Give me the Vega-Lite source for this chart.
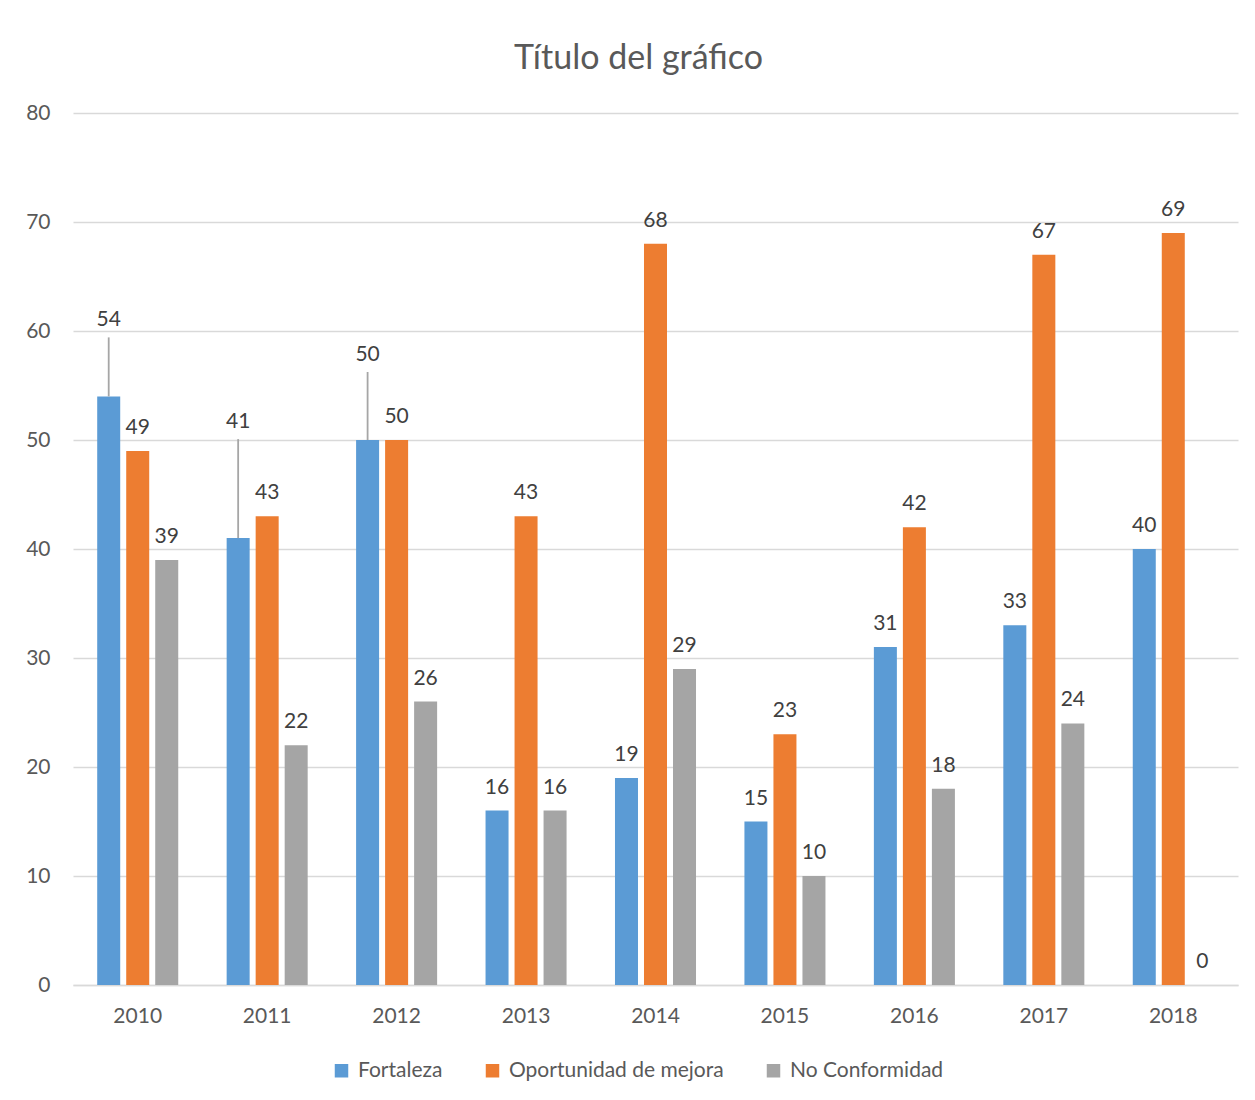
{
  "$schema": "https://vega.github.io/schema/vega-lite/v6.json",
  "autosize": {"type": "none"},
  "padding": {"left": 73, "top": 113, "right": 17, "bottom": 115},
  "width": 1165,
  "height": 872,
  "background": "white",
  "title": {
    "text": "Título del gráfico",
    "font": "Lato",
    "fontSize": 34,
    "fontWeight": "normal",
    "color": "#595959",
    "anchor": "middle",
    "baseline": "alphabetic",
    "dx": -17,
    "offset": -1
  },
  "data": {
    "values": [
      {"year": "2010", "serie": "Fortaleza", "valor": 54},
      {"year": "2010", "serie": "Oportunidad de mejora", "valor": 49},
      {"year": "2010", "serie": "No Conformidad", "valor": 39},
      {"year": "2011", "serie": "Fortaleza", "valor": 41},
      {"year": "2011", "serie": "Oportunidad de mejora", "valor": 43},
      {"year": "2011", "serie": "No Conformidad", "valor": 22},
      {"year": "2012", "serie": "Fortaleza", "valor": 50},
      {"year": "2012", "serie": "Oportunidad de mejora", "valor": 50},
      {"year": "2012", "serie": "No Conformidad", "valor": 26},
      {"year": "2013", "serie": "Fortaleza", "valor": 16},
      {"year": "2013", "serie": "Oportunidad de mejora", "valor": 43},
      {"year": "2013", "serie": "No Conformidad", "valor": 16},
      {"year": "2014", "serie": "Fortaleza", "valor": 19},
      {"year": "2014", "serie": "Oportunidad de mejora", "valor": 68},
      {"year": "2014", "serie": "No Conformidad", "valor": 29},
      {"year": "2015", "serie": "Fortaleza", "valor": 15},
      {"year": "2015", "serie": "Oportunidad de mejora", "valor": 23},
      {"year": "2015", "serie": "No Conformidad", "valor": 10},
      {"year": "2016", "serie": "Fortaleza", "valor": 31},
      {"year": "2016", "serie": "Oportunidad de mejora", "valor": 42},
      {"year": "2016", "serie": "No Conformidad", "valor": 18},
      {"year": "2017", "serie": "Fortaleza", "valor": 33},
      {"year": "2017", "serie": "Oportunidad de mejora", "valor": 67},
      {"year": "2017", "serie": "No Conformidad", "valor": 24},
      {"year": "2018", "serie": "Fortaleza", "valor": 40},
      {"year": "2018", "serie": "Oportunidad de mejora", "valor": 69},
      {"year": "2018", "serie": "No Conformidad", "valor": 0}
    ]
  },
  "encoding": {
    "x": {
      "field": "year",
      "type": "nominal",
      "scale": {"paddingInner": 0.374, "paddingOuter": 0.187},
      "axis": {
        "title": null,
        "labelAngle": 0,
        "ticks": false,
        "domainColor": "#D9D9D9",
        "domainWidth": 1.5,
        "labelPadding": 20,
        "labelFont": "Lato",
        "labelFontSize": 21,
        "labelColor": "#595959"
      }
    },
    "xOffset": {
      "field": "serie",
      "type": "nominal",
      "sort": ["Fortaleza", "Oportunidad de mejora", "No Conformidad"],
      "scale": {"paddingInner": 0.207, "paddingOuter": 0}
    },
    "y": {
      "field": "valor",
      "type": "quantitative",
      "scale": {"domain": [0, 80], "nice": false},
      "axis": {
        "title": null,
        "values": [0, 10, 20, 30, 40, 50, 60, 70, 80],
        "domain": false,
        "ticks": false,
        "grid": true,
        "gridColor": "#D9D9D9",
        "gridWidth": 1.3,
        "labelPadding": 23,
        "labelFont": "Lato",
        "labelFontSize": 21,
        "labelColor": "#595959"
      }
    }
  },
  "layer": [
    {
      "mark": {"type": "bar"},
      "encoding": {
        "color": {
          "field": "serie",
          "type": "nominal",
          "sort": ["Fortaleza", "Oportunidad de mejora", "No Conformidad"],
          "scale": {
            "domain": ["Fortaleza", "Oportunidad de mejora", "No Conformidad"],
            "range": ["#5B9BD5", "#ED7D31", "#A5A5A5"]
          },
          "legend": {
            "title": null,
            "orient": "none",
            "direction": "horizontal",
            "legendX": 258,
            "legendY": 947,
            "symbolType": "square",
            "symbolSize": 182,
            "symbolStrokeWidth": 0,
            "labelFont": "Lato",
            "labelFontSize": 21,
            "labelColor": "#595959",
            "labelOffset": 6,
            "labelLimit": 400,
            "columnPadding": 39
          }
        }
      }
    },
    {
      "transform": [{"filter": "!(datum.serie == 'Fortaleza' && (datum.year == '2010' || datum.year == '2011' || datum.year == '2012'))"}],
      "mark": {"type": "text", "baseline": "alphabetic", "dy": -17, "font": "Lato", "fontSize": 21, "color": "#404040"},
      "encoding": {"text": {"field": "valor", "type": "quantitative"}}
    },
    {
      "transform": [{"filter": "datum.serie == 'Fortaleza' && datum.year == '2010'"}],
      "mark": {"type": "rule", "y2Offset": -59, "color": "#A6A6A6", "strokeWidth": 1.8},
      "encoding": {"y2": {"field": "valor"}}
    },
    {
      "transform": [{"filter": "datum.serie == 'Fortaleza' && datum.year == '2010'"}],
      "mark": {"type": "text", "baseline": "alphabetic", "dy": -70, "font": "Lato", "fontSize": 21, "color": "#404040"},
      "encoding": {"text": {"field": "valor", "type": "quantitative"}}
    },
    {
      "transform": [{"filter": "datum.serie == 'Fortaleza' && datum.year == '2011'"}],
      "mark": {"type": "rule", "y2Offset": -99, "color": "#A6A6A6", "strokeWidth": 1.8},
      "encoding": {"y2": {"field": "valor"}}
    },
    {
      "transform": [{"filter": "datum.serie == 'Fortaleza' && datum.year == '2011'"}],
      "mark": {"type": "text", "baseline": "alphabetic", "dy": -110, "font": "Lato", "fontSize": 21, "color": "#404040"},
      "encoding": {"text": {"field": "valor", "type": "quantitative"}}
    },
    {
      "transform": [{"filter": "datum.serie == 'Fortaleza' && datum.year == '2012'"}],
      "mark": {"type": "rule", "y2Offset": -68, "color": "#A6A6A6", "strokeWidth": 1.8},
      "encoding": {"y2": {"field": "valor"}}
    },
    {
      "transform": [{"filter": "datum.serie == 'Fortaleza' && datum.year == '2012'"}],
      "mark": {"type": "text", "baseline": "alphabetic", "dy": -79, "font": "Lato", "fontSize": 21, "color": "#404040"},
      "encoding": {"text": {"field": "valor", "type": "quantitative"}}
    }
  ],
  "config": {
    "view": {"stroke": null}
  }
}
